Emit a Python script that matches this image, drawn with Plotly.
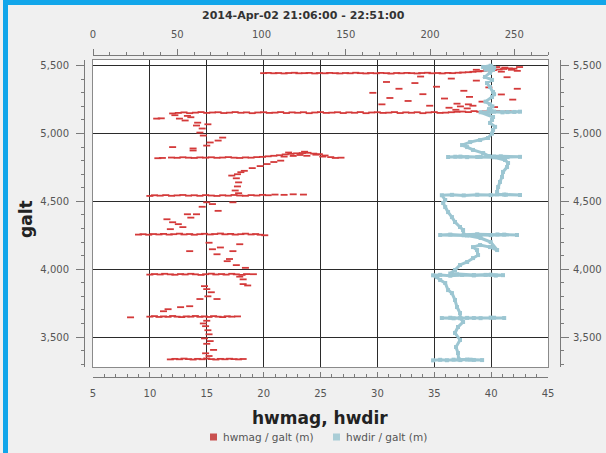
import plotly.graph_objects as go

# ---------------- data ----------------
title_text = "2014-Apr-02 21:06:00 - 22:51:00"
bottom_ticks = [5, 10, 15, 20, 25, 30, 35, 40, 45]
top_ticks = [0, 50, 100, 150, 200, 250]
alt_ticks = [3500, 4000, 4500, 5000, 5500]
legend_names = ["hwmag / galt (m)", "hwdir / galt (m)"]

# hwmag / galt (m)  -- (hwmag, galt) pairs per cluster
red_5445 = [(20.0,5445),(20.4,5447),(20.9,5444),(21.3,5446),(21.8,5443),(22.2,5446),(22.7,5448),(23.1,5444),
            (23.6,5445),(24.0,5447),(24.5,5443),(24.9,5446),(25.4,5444),(25.8,5447),(26.3,5445),(26.7,5443),
            (27.2,5446),(27.6,5444),(28.1,5448),(28.5,5445),(29.0,5443),(29.4,5446),(29.9,5444),(30.3,5447),
            (30.8,5445),(31.2,5442),(31.7,5446),(32.1,5444),(32.6,5447),(33.0,5445),(33.5,5443),(33.9,5446),
            (34.4,5448),(34.8,5444),(35.3,5446),(35.7,5443),(36.2,5447),(36.6,5445),(37.1,5448),(37.5,5450),
            (38.0,5452),(38.4,5455),(38.9,5458),(39.3,5461),(39.8,5465),(40.2,5468),(40.7,5472),(41.1,5476),
            (41.6,5480),(42.0,5478)]
red_top = [(40.5,5490),(41.2,5486),(41.8,5470),(42.3,5462),(39.6,5478),(40.9,5456),(42.5,5490),(38.7,5470)]
red_upper_scatter = [(29.6,5300),(30.4,5215),(31.1,5262),(31.9,5330),(32.7,5240),(33.3,5372),(34.0,5290),
                     (34.6,5205),(35.2,5345),(35.9,5258),(36.5,5405),(37.0,5220),(37.6,5315),(38.1,5270),
                     (38.7,5390),(39.2,5235),(39.8,5340),(40.3,5195),(40.9,5288),(41.4,5415),(41.9,5250),
                     (42.3,5330),(36.3,5190),(37.3,5200),(37.9,5185),(38.4,5205),(36.9,5175),(38.0,5215),
                     (33.8,5420),(30.8,5380)]
red_5155 = [(10.6,5110),(11.0,5112),(12.0,5148),(12.5,5152),(13.0,5156),(13.5,5150),(14.0,5154),(14.5,5158),
            (15.0,5152),(15.5,5155),(16.0,5157),(16.5,5151),(17.0,5154),(17.5,5158),(18.0,5153),(18.5,5156),
            (19.0,5150),(19.5,5155),(20.0,5157),(20.5,5152),(21.0,5154),(21.5,5158),(22.0,5151),(22.5,5156),
            (23.0,5153),(23.5,5157),(24.0,5150),(24.5,5155),(25.0,5158),(25.5,5152),(26.0,5154),(26.5,5157),
            (27.0,5151),(27.5,5156),(28.0,5153),(28.5,5158),(29.0,5150),(29.5,5155),(30.0,5157),(30.5,5152),
            (31.0,5154),(31.5,5158),(32.0,5151),(32.5,5156),(33.0,5153),(33.5,5157),(34.0,5150),(34.5,5155),
            (35.0,5158),(35.5,5152),(36.0,5154),(36.5,5157),(37.0,5160),(37.5,5162),(38.0,5158),(38.5,5165),
            (39.0,5160),(39.5,5163),(40.0,5158),(40.5,5166),(41.0,5161),(41.5,5164),(42.0,5160)]
red_5000_scatter = [(12.6,5110),(13.1,5096),(13.6,5120),(14.1,5059),(14.6,5037),(14.4,5007),(14.7,4985),
                    (15.3,4934),(16.0,4948),(13.8,4875),(15.0,4911),(14.2,5080),(15.1,5068),(16.4,4970),
                    (13.3,5130),(12.2,5135)]
red_4823 = [(10.7,4818),(11.1,4820),(11.9,4823),(12.4,4821),(12.9,4825),(13.4,4822),(13.9,4820),(14.4,4824),
            (14.9,4822),(15.4,4825),(15.9,4821),(16.4,4823),(16.9,4826),(17.4,4822),(17.9,4820),(18.4,4824),
            (18.9,4822),(19.4,4826),(19.9,4828),(20.4,4832),(20.9,4836),(21.4,4840),(21.9,4846),(22.4,4850),
            (22.9,4854),(23.4,4856),(23.9,4858),(24.4,4852),(24.9,4848),(25.4,4838),(25.9,4826),(26.3,4820),
            (21.8,4830),(22.6,4835),(23.2,4842),(23.8,4836),(24.6,4844),(25.2,4830),(22.2,4860),(23.6,4866),
            (26.8,4822)]
red_4700_scatter = [(17.7,4700),(17.6,4670),(17.8,4640),(17.7,4610),(17.5,4580),(17.8,4560),(18.3,4725),
                    (19.0,4745),(19.7,4760),(20.3,4775),(20.9,4790),(21.5,4800),(18.0,4715),(17.2,4690),
                    (13.8,4890),(12.0,4900)]
red_4543 = [(10.0,4540),(10.4,4545),(10.9,4542),(11.4,4546),(11.9,4541),(12.4,4544),(12.9,4547),(13.4,4542),
            (13.9,4545),(14.4,4541),(14.9,4546),(15.4,4543),(15.9,4540),(16.4,4545),(16.9,4542),(17.4,4547),
            (17.9,4543),(18.4,4541),(18.9,4546),(19.4,4543),(19.9,4548),(20.4,4545),(21.0,4550),(21.8,4548),
            (22.6,4552),(23.5,4550)]
red_4400_scatter = [(15.0,4493),(15.5,4480),(17.3,4493),(11.5,4368),(12.0,4346),(12.5,4332),(13.3,4405),
                    (14.1,4405),(11.8,4295),(12.9,4310),(13.6,4380),(14.6,4460),(16.0,4430)]
red_4258 = [(9.0,4255),(9.4,4258),(9.9,4254),(10.3,4259),(10.8,4256),(11.2,4260),(11.7,4255),(12.1,4258),
            (12.6,4262),(13.0,4256),(13.5,4259),(13.9,4254),(14.4,4258),(14.8,4261),(15.3,4256),(15.7,4259),
            (16.2,4263),(16.6,4257),(17.1,4260),(17.5,4255),(18.0,4258),(18.4,4262),(18.9,4256),(19.3,4259),
            (19.7,4254),(20.1,4250)]
red_4100_scatter = [(13.5,4133),(15.5,4147),(15.9,4110),(17.3,4133),(16.8,4059),(17.0,4075),(17.9,4184),
                    (16.2,4160),(15.2,4195),(18.4,4010),(17.6,4030)]
red_3963 = [(10.0,3960),(10.4,3964),(10.9,3961),(11.3,3966),(11.8,3962),(12.2,3959),(12.7,3964),(13.1,3961),
            (13.6,3966),(14.0,3962),(14.5,3958),(14.9,3963),(15.4,3967),(15.8,3961),(16.3,3964),(16.7,3960),
            (17.2,3966),(17.6,3962),(18.1,3958),(18.5,3964),(19.1,3963),(17.9,3945),(18.2,3925)]
red_3800_scatter = [(18.2,3890),(18.6,3880),(15.0,3853),(15.1,3800),(14.4,3780),(15.9,3780),(13.5,3727),
                    (12.7,3720),(11.6,3705),(11.2,3690),(15.4,3830),(14.8,3875)]
red_3650 = [(8.3,3645),(10.0,3650),(10.4,3654),(10.8,3648),(11.2,3652),(11.6,3649),(12.0,3655),(12.4,3650),
            (12.8,3647),(13.2,3652),(13.6,3650),(14.0,3655),(14.4,3649),(14.8,3652),(15.2,3648),(15.6,3654),
            (16.0,3650),(16.4,3647),(16.8,3653),(17.2,3650),(17.7,3652)]
red_3500_scatter = [(15.0,3620),(14.9,3580),(15.1,3550),(15.2,3520),(14.8,3490),(15.0,3450),(15.6,3405),
                    (14.7,3600),(15.3,3470)]
red_3338 = [(11.8,3335),(12.2,3339),(12.6,3336),(13.0,3341),(13.4,3337),(13.8,3334),(14.2,3339),(14.6,3336),
            (15.0,3342),(15.4,3337),(15.8,3334),(16.2,3339),(16.6,3336),(17.0,3340),(17.4,3337),(17.8,3335),
            (18.2,3338),(15.2,3360),(14.9,3380)]

# hwdir / galt (m) -- (hwdir deg, galt) pairs, in flight order (bottom to top)
blue_track = [(201.8,3328),(206,3332),(210,3329),(214,3333),(218,3330),(222,3334),(226,3331),(230.9,3330),
              (224,3333),(217,3336),(216.6,3382),(215.4,3426),(217.8,3478),(214.8,3530),(216.6,3574),
              (219.6,3611),(218,3640),(212,3642),(207,3640),(214,3638),(222,3641),(230,3639),(238,3642),
              (244,3640),(236,3643),(226,3640),(218,3638),(217.8,3677),(216,3721),(214.8,3773),(213,3824),
              (210.7,3846),(209,3898),(206,3920),(204,3942),(201.8,3955),(206,3958),(212,3952),(219,3957),
              (226,3954),(233,3958),(239,3953),(243.3,3956),(236,3960),(226,3957),(216,3962),(212,3968),
              (214.8,3994),(217.8,4031),(222,4053),(225.5,4082),(228.5,4104),(227.9,4141),(225.5,4163),
              (229.7,4178),(235.6,4163),(239.8,4141),(236,4200),(230,4230),(222,4248),(206,4252),(212,4255),
              (220,4250),(228,4254),(236,4251),(244,4255),(251.6,4252),(240,4256),(228,4257),(220,4254),
              (219.6,4289),(217.8,4311),(214.8,4348),(213,4384),(210.7,4421),(209,4458),(207.8,4488),
              (209,4510),(207,4545),(213,4548),(220,4544),(228,4549),(236,4546),(244,4550),(253.4,4547),
              (245,4549),(239.8,4552),(239.8,4569),(240.4,4606),(241.5,4643),(242.7,4680),(243.3,4717),
              (245.7,4753),(246.3,4783),(244.5,4805),(238,4825),(230,4828),(222,4826),(215,4829),
              (210.7,4827),(218,4830),(228,4827),(238,4830),(246,4826),(253.4,4828),(242,4832),(235,4834),
              (231.5,4856),(225.5,4879),(222,4900),(219,4915),(223.8,4937),(229.7,4952),(234.4,4967),
              (236.8,5000),(237.4,5026),(238.6,5049),(235.6,5078),(236.8,5100),(237.4,5122),(230,5157),
              (236,5160),(243,5156),(250,5159),(253.4,5161),(246,5158),(238,5162),(235,5180),(237,5200),
              (235.6,5215),(233,5235),(236.8,5269),(238,5290),
              (237.4,5306),(235.6,5343),(233.8,5372),(236.8,5395),(232.6,5417),(235.6,5446),(237.4,5469),
              (234.4,5483),(231.5,5490),(236,5500),(238,5485),(233,5470)]

red_clusters = [red_5445, red_top, red_upper_scatter, red_5155, red_5000_scatter, red_4823,
                red_4700_scatter, red_4543, red_4400_scatter, red_4258, red_4100_scatter, red_3963,
                red_3800_scatter, red_3650, red_3500_scatter, red_3338]
hwmag = [p[0] for c in red_clusters for p in c]
galt_red = [p[1] for c in red_clusters for p in c]
hwdir = [p[0] for p in blue_track]
galt_blue = [p[1] for p in blue_track]

# ---------------- layout geometry ----------------
W, H = 606, 453
ML, MR, MT, MB = 70, 30, 40, 60
PW, PH = W - ML - MR, H - MT - MB


def px(x):
    return (x - ML) / PW


def py(y):
    return (H - MB - y) / PH


RED = "#d43a3a"
BLUE = "#9cc6d2"
GRID = "#2b2b2b"
AX = "#7a7a7a"
TF = dict(family="DejaVu Sans", size=10, color="#555555")

fig = go.Figure()
fig.add_trace(go.Scatter(x=hwdir, y=galt_blue, xaxis="x2", yaxis="y", mode="lines+markers",
                         line=dict(color=BLUE, width=3),
                         marker=dict(color=BLUE, size=4, symbol="square"),
                         name=legend_names[1], showlegend=False, hoverinfo="skip"))
fig.add_trace(go.Scatter(x=hwmag, y=galt_red, xaxis="x", yaxis="y", mode="markers",
                         marker=dict(color=RED, size=5, symbol="line-ew", line=dict(color=RED, width=1.8)),
                         name=legend_names[0], showlegend=False, hoverinfo="skip"))
# helper (invisible) traces so the free axes are drawn
fig.add_trace(go.Scatter(x=hwmag, y=galt_red, xaxis="x3", yaxis="y2", mode="markers",
                         marker=dict(opacity=0), showlegend=False, hoverinfo="skip"))
fig.add_trace(go.Scatter(x=hwmag, y=galt_red, xaxis="x3", yaxis="y3", mode="markers",
                         marker=dict(opacity=0), showlegend=False, hoverinfo="skip"))

xdom = [px(93), px(548)]
ydom = [py(367), py(60)]
yr = [3279, 5542]

minor_common = dict(tick0=0, ticklen=3, tickcolor=AX, showgrid=False)


def ann(text, x, y, size, color, **kw):
    d = dict(text=text, xref="paper", yref="paper", x=px(x), y=py(y), xanchor="center",
             yanchor="middle", showarrow=False, font=dict(family="DejaVu Sans", size=size, color=color))
    d.update(kw)
    return d


fig.update_layout(
    width=W, height=H,
    margin=dict(l=ML, r=MR, t=MT, b=MB, autoexpand=False),
    paper_bgcolor="#f0f0f0", plot_bgcolor="white",
    showlegend=False,
    xaxis=dict(domain=xdom, range=[5, 45], anchor="y", showgrid=True, tick0=0, dtick=5,
               gridcolor=GRID, gridwidth=1, showline=True, linecolor="#8a8a8a", mirror=True,
               ticks="", showticklabels=False, zeroline=False, automargin=False),
    yaxis=dict(domain=ydom, range=yr, anchor="x", showgrid=True, tick0=0, dtick=500,
               gridcolor=GRID, gridwidth=1, showline=True, linecolor="#8a8a8a", mirror=True,
               ticks="", showticklabels=False, zeroline=False, automargin=False),
    xaxis2=dict(overlaying="x", side="top", anchor="free", position=py(55), range=[0, 270],
                tickvals=top_ticks, showgrid=False, zeroline=False, showline=True, linecolor=AX,
                ticks="outside", ticklen=6, tickcolor=AX, automargin=False, ticklabelstandoff=7,
                minor=dict(dtick=10, ticks="outside", **minor_common), tickfont=TF),
    xaxis3=dict(overlaying="x", side="bottom", anchor="free", position=py(377), range=[5, 45],
                tickvals=bottom_ticks, showgrid=False, zeroline=False, showline=True, linecolor=AX,
                ticks="inside", ticklen=5, tickcolor=AX, automargin=False, ticklabelstandoff=7,
                minor=dict(dtick=1, ticks="inside", **minor_common), tickfont=TF),
    yaxis2=dict(overlaying="y", side="left", anchor="free", position=px(84), range=yr,
                tickvals=alt_ticks, tickformat=",", showgrid=False, zeroline=False, showline=True,
                linecolor=AX, ticks="outside", ticklen=8, tickcolor=AX, automargin=False,
                ticklabelstandoff=5,
                minor=dict(dtick=100, ticks="outside", **minor_common), tickfont=TF),
    yaxis3=dict(overlaying="y", side="right", anchor="free", position=px(560), range=yr,
                tickvals=alt_ticks, tickformat=",", showgrid=False, zeroline=False, showline=True,
                linecolor=AX, ticks="outside", ticklen=8, tickcolor=AX, automargin=False,
                ticklabelstandoff=2,
                minor=dict(dtick=100, ticks="outside", **minor_common), tickfont=TF),
    annotations=[
        ann("<b>" + title_text + "</b>", 303, 16, 11, "#333333"),
        ann("<b>hwmag, hwdir</b>", 320, 418, 17, "#222222"),
        ann("<b>galt</b>", 26, 219, 17, "#222222", textangle=-90),
        ann(legend_names[0], 221, 437, 10.5, "#555555", xanchor="left"),
        ann(legend_names[1], 344, 437, 10.5, "#555555", xanchor="left"),
    ],
    shapes=[
        dict(type="rect", xref="paper", yref="paper", x0=px(3), x1=px(8), y0=py(H), y1=py(0),
             fillcolor="#12a6ea", line=dict(width=0), layer="above"),
        dict(type="rect", xref="paper", yref="paper", x0=px(3), x1=px(W), y0=py(5), y1=py(0),
             fillcolor="#12a6ea", line=dict(width=0), layer="above"),
        # legend swatches
        dict(type="rect", xref="paper", yref="paper", x0=px(210), x1=px(217), y0=py(440.5), y1=py(433.5),
             fillcolor="#c9504f", line=dict(width=0)),
        dict(type="rect", xref="paper", yref="paper", x0=px(333), x1=px(340), y0=py(440.5), y1=py(433.5),
             fillcolor="#a9cdd6", line=dict(width=0)),
    ],
)

fig.write_html("out.html", config={"displayModeBar": False},
               post_script="document.body.style.margin='0px';")
